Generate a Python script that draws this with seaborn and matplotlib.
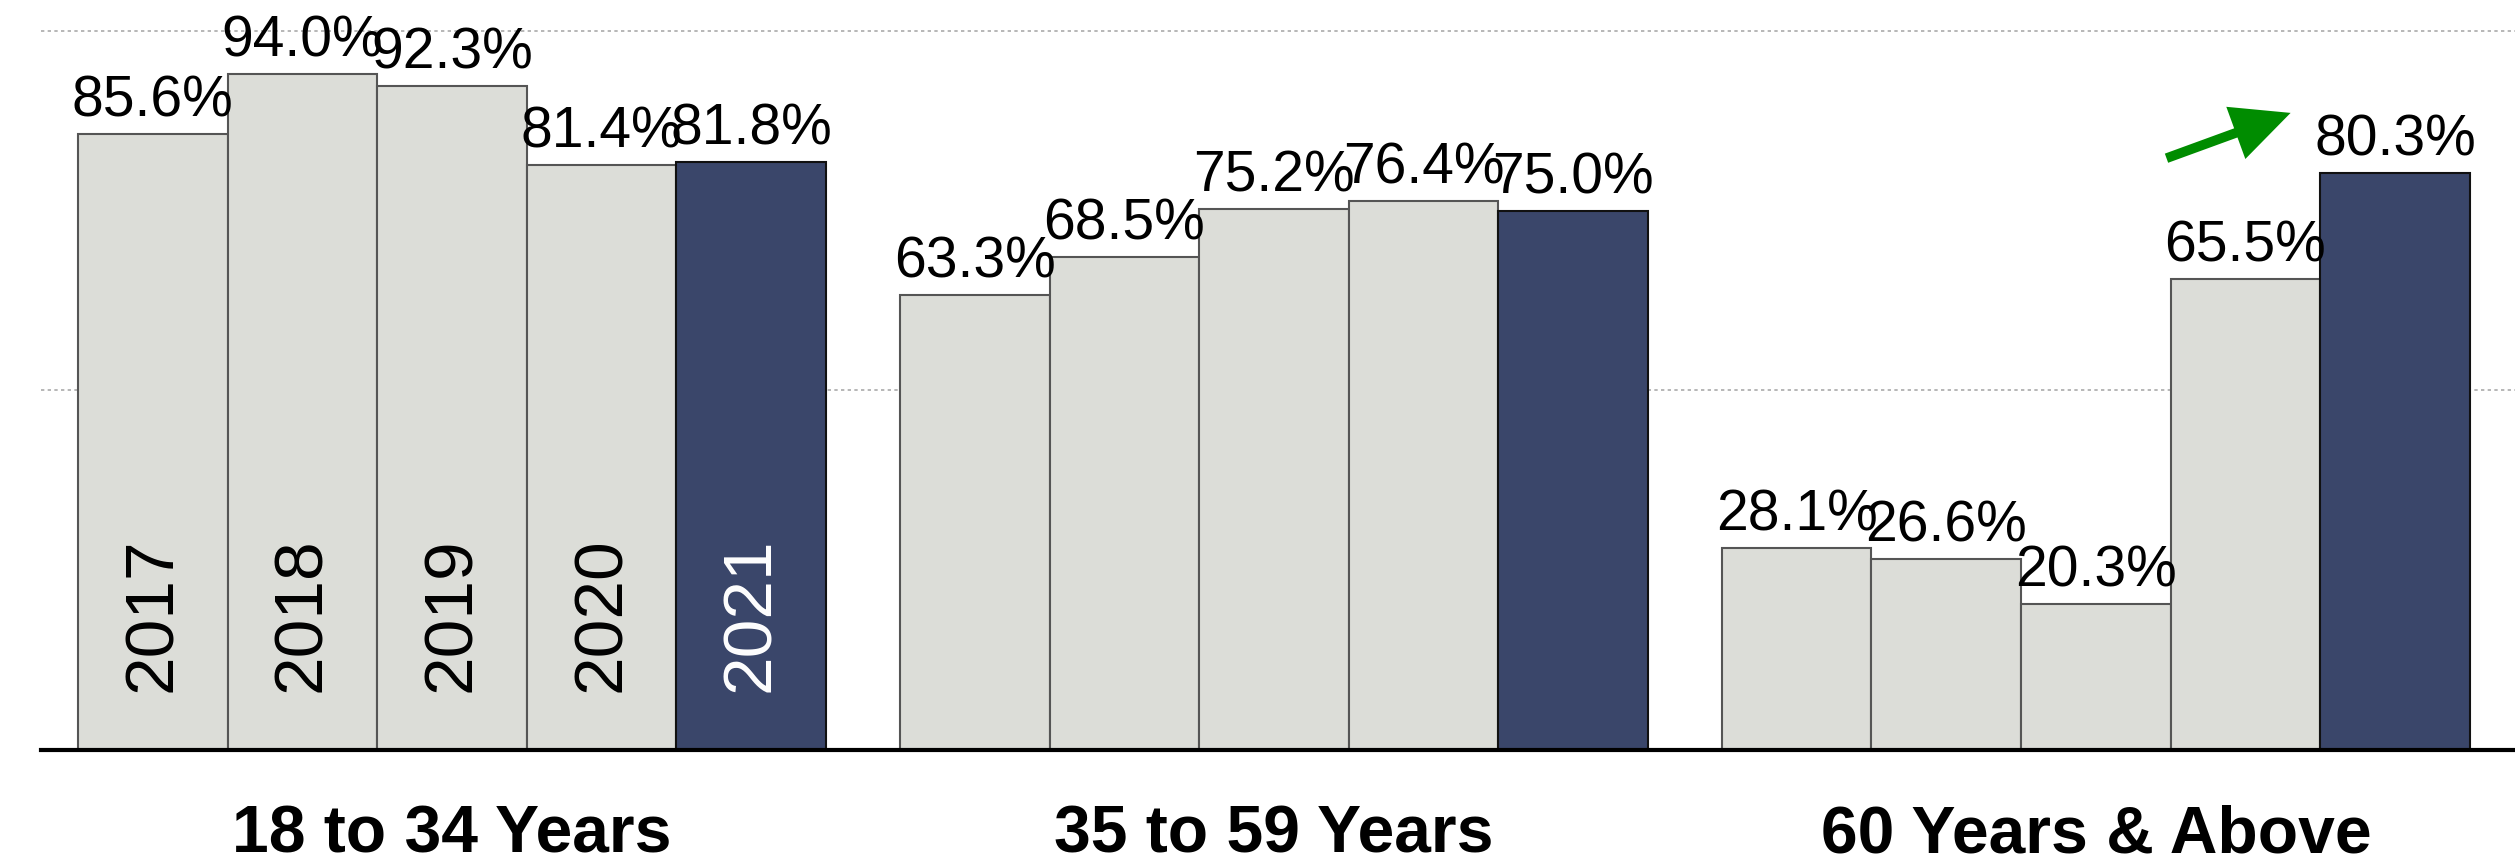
import matplotlib
matplotlib.use('Agg')
import matplotlib.pyplot as plt
import seaborn as sns
import pandas as pd

groups = ['18 to 34 Years', '35 to 59 Years', '60 Years & Above']
years = ['2017', '2018', '2019', '2020', '2021']
vals_18_34 = [85.6, 94.0, 92.3, 81.4, 81.8]
vals_35_59 = [63.3, 68.5, 75.2, 76.4, 75.0]
vals_60_up = [28.1, 26.6, 20.3, 65.5, 80.3]

grey = '#dcddd8'
navy = '#3a466a'
pal = {'2017': grey, '2018': grey, '2019': grey, '2020': grey, '2021': navy}

rows = []
for g, vals in zip(groups, [vals_18_34, vals_35_59, vals_60_up]):
    for y, v in zip(years, vals):
        rows.append({'group': g, 'year': y, 'value': v})
df = pd.DataFrame(rows)

sns.set_style('white')
plt.rcParams['text.color'] = 'black'
plt.rcParams['xtick.color'] = 'black'
fig = plt.figure(figsize=(25.15, 8.66), dpi=100)
ax = fig.add_axes([41 / 2515, 116 / 866, 1 - 41 / 2515, 750 / 866])

sns.barplot(data=df, x='group', y='value', hue='year', hue_order=years,
            palette=pal, width=0.91, saturation=1, legend=False, ax=ax)

ax.set_xlim(-0.5, 2.51)
ax.set_ylim(0, 104.3)

# value labels + edge colours
for yr, cont in zip(years, ax.containers):
    for bar in cont:
        if yr == '2021':
            bar.set_edgecolor('#111111')
        else:
            bar.set_edgecolor('#555555')
        bar.set_linewidth(1.5)
    labs = [f'{b.get_height():.1f}%' for b in cont]
    ax.bar_label(cont, labels=labs, padding=4, fontsize=41,
                 family='Liberation Sans', color='black')

# year names inside the first group
for yr, cont in zip(years, ax.containers):
    b = cont[0]
    ax.text(b.get_x() + b.get_width() / 2, 8.0, yr, rotation=90,
            ha='center', va='bottom', fontsize=50, family='Liberation Sans',
            color='white' if yr == '2021' else 'black')

for yv in [50, 100]:
    ax.axhline(yv, color='#aaaaaa', lw=1.2, ls=(0, (2, 2)), zorder=0)

ax.annotate('', xy=(2.237, 88.6), xytext=(2.086, 82.3),
            arrowprops=dict(width=7, headwidth=40, headlength=42,
                            shrink=0, color='#008c00', lw=0))

for s in ['top', 'right', 'left']:
    ax.spines[s].set_visible(False)
ax.spines['bottom'].set_linewidth(3)
ax.spines['bottom'].set_color('black')
ax.set_yticks([])
ax.set_xlabel('')
ax.set_ylabel('')
ax.tick_params(axis='x', length=0, pad=39, colors='black')
for t in ax.get_xticklabels():
    t.set_fontfamily('Liberation Sans')
    t.set_fontweight('bold')
    t.set_fontsize(47.5)
    t.set_color('black')

fig.savefig('out.png', dpi=100)
